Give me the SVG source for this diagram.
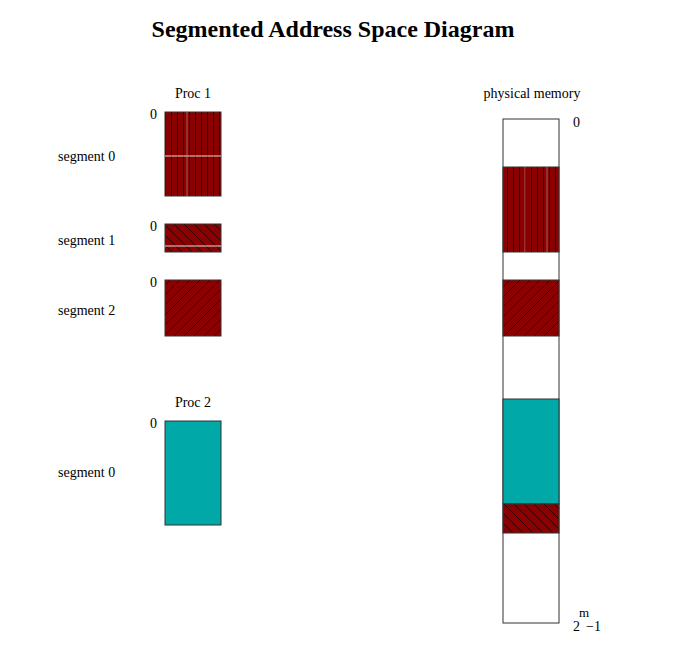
<svg xmlns="http://www.w3.org/2000/svg" width="700" height="670" viewBox="0 0 700 670">
<defs>
<pattern id="pv" width="6" height="10" patternUnits="userSpaceOnUse" x="165"><rect width="6" height="10" fill="#8b0000"/><line x1="0.5" y1="0" x2="0.5" y2="10" stroke="#200" stroke-width="1"/></pattern>
<pattern id="pb" width="10" height="10" patternUnits="userSpaceOnUse"><rect width="10" height="10" fill="#8b0000"/><path d="M-2,-2L12,12M-2,8L2,12M8,-2L12,2" stroke="#200" stroke-width="0.8"/></pattern>
<pattern id="pf" width="10" height="10" patternUnits="userSpaceOnUse"><rect width="10" height="10" fill="#8b0000"/><path d="M-2,12L12,-2M-2,2L2,-2M8,12L12,8" stroke="#200" stroke-width="0.8"/></pattern>
</defs>
<style>
text{font-family:"Liberation Serif",serif;font-size:14px;fill:#000}
.b{stroke:#333;stroke-width:1}
.t{fill:#00a8a8}
.w{fill:#fff}
</style>
<rect width="700" height="670" fill="#fff"/>
<text x="333" y="37" text-anchor="middle" style="font-size:24px;font-weight:bold">Segmented Address Space Diagram</text>
<g id="proc1">
<text x="193" y="98" text-anchor="middle">Proc 1</text>
<g id="p1s0"><text x="58" y="161">segment 0</text><text x="150" y="119">0</text><rect class="b" x="165" y="112" width="56" height="84" fill="url(#pv)"/><line x1="165" y1="156" x2="221" y2="156" stroke="#ddd"/><line x1="187" y1="112" x2="187" y2="196" stroke="#aaa" stroke-width="0.6"/></g>
<g id="p1s1"><text x="58" y="245">segment 1</text><text x="150" y="231">0</text><rect class="b" x="165" y="224" width="56" height="28" fill="url(#pb)"/><line x1="165" y1="246" x2="221" y2="246" stroke="#ddd"/></g>
<g id="p1s2"><text x="58" y="315">segment 2</text><text x="150" y="287">0</text><rect class="b" x="165" y="280" width="56" height="56" fill="url(#pf)"/></g>
</g>
<g id="proc2">
<text x="193" y="407" text-anchor="middle">Proc 2</text>
<g id="p2s0"><text x="58" y="477">segment 0</text><text x="150" y="428">0</text><rect class="b t" x="165" y="421" width="56" height="104"/></g>
</g>
<g id="phys">
<text x="532" y="98" text-anchor="middle">physical memory</text>
<text x="573" y="127">0</text>
<rect class="b w" x="503" y="119" width="56" height="504"/>
<rect class="b" x="503" y="167" width="56" height="85" fill="url(#pv)"/>
<line x1="525" y1="167" x2="525" y2="252" stroke="#aaa" stroke-width="0.6"/>
<line x1="547" y1="167" x2="547" y2="252" stroke="#aaa" stroke-width="0.6"/>
<rect class="b" x="503" y="280" width="56" height="56" fill="url(#pf)"/>
<rect class="b t" x="503" y="399" width="56" height="105"/>
<rect class="b" x="503" y="504" width="56" height="29" fill="url(#pb)"/>
<text x="573" y="631">2</text><text x="579" y="617" style="font-size:13px">m</text><text x="586" y="631">−1</text>
</g>
<g id="connectors"/>
</svg>
